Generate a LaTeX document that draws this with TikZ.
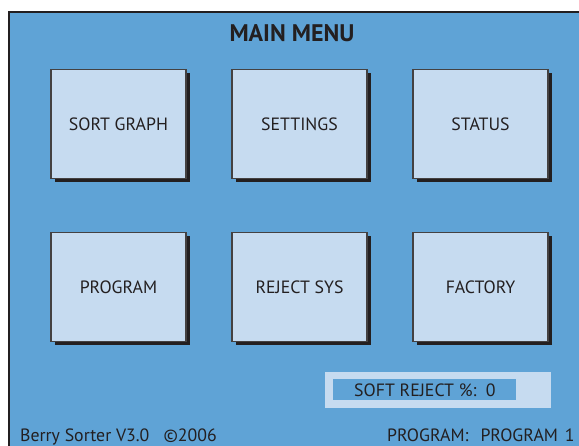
\documentclass[tikz,border=0pt]{standalone}
\usepackage{fontspec}
\setmainfont{PT Sans}
\usetikzlibrary{shadows}
\definecolor{bgblue}{RGB}{95,163,214}
\definecolor{boxfill}{RGB}{198,219,240}
\definecolor{ink}{RGB}{35,31,32}
\tikzset{
  menubox/.style={draw=ink!85, line width=1.3pt, fill=boxfill, minimum width=135pt, minimum height=109pt, inner sep=0pt, text=ink, font=\fontsize{17.8}{20}\selectfont,
    drop shadow={shadow xshift=3.5pt, shadow yshift=-3.5pt, fill=ink, opacity=1}},
  label/.style={text=ink, font=\fontsize{17.8}{20}\selectfont, inner sep=0pt}
}
\begin{document}
\begin{tikzpicture}[x=1pt,y=-1pt]
\useasboundingbox (0,0) rectangle (579,446);
\fill[bgblue] (9,12.5) rectangle (579,446);
\draw[ink, line width=2pt] (9,446) -- (9,12.5) -- (579,12.5);
\node[text=ink, font=\fontsize{24}{26}\selectfont\bfseries, inner sep=0pt] (title) at (292,33) {MAIN MENU};
\node[menubox] (sort) at (118.5,124) {SORT GRAPH};
\node[menubox] (settings) at (299.5,124) {SETTINGS};
\node[menubox] (status) at (480.5,124) {STATUS};
\node[menubox] (program) at (118.5,287) {PROGRAM};
\node[menubox] (reject) at (299.5,287) {REJECT SYS};
\node[menubox] (factory) at (480.5,287) {FACTORY};
\fill[boxfill] (325,372) rectangle (551,408);
\fill[bgblue] (333,379) rectangle (516,400);
\node[label, anchor=west] (soft) at (354,390) {SOFT REJECT \%:\ \ 0};
\node[label, anchor=base west] (berry) at (20,442) {Berry Sorter V3.0\ \ \ ©2006};
\node[label, anchor=base west] (prog) at (387,442) {PROGRAM:\hspace{12pt}PROGRAM\hspace{7pt}1};
\end{tikzpicture}
\end{document}
